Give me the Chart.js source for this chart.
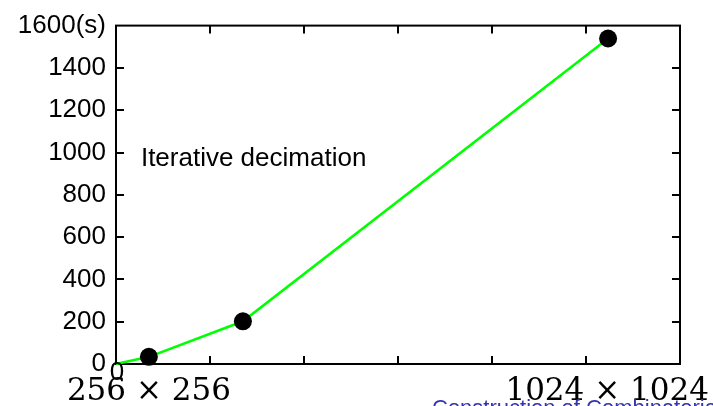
<!DOCTYPE html>
<html>
<head>
<meta charset="utf-8">
<script src="https://cdn.jsdelivr.net/npm/chart.js@4/dist/chart.umd.min.js"></script>
<style>
  html, body { margin: 0; padding: 0; background: #fff; }
  #wrap { width: 713px; height: 406px; }
</style>
</head>
<body>
<div id="wrap"><canvas id="chart" width="713" height="406"></canvas></div>
<script>
// --- Data ---
const imageSizes = [0, 70000, 270000, 1047000];   // pixels per image
const seconds = [0, 34, 202, 1539];               // run time (s)
const markerRadius = [0, 9, 9, 9];                // origin has no marker

const yTickValues = [0, 200, 400, 600, 800, 1000, 1200, 1400, 1600];
const xTickValues = [0, 200000, 400000, 600000, 800000, 1000000, 1200000];
const xTickLabels = ['0'];
const sizeLabels = ['256 \u00d7 256', '1024 \u00d7 1024'];
const sizeLabelValues = [70000, 1045000];
const seriesName = 'Iterative decimation';
const caption = 'Construction of Combinatorial';

const SANS = "'Liberation Sans', Arial, sans-serif";
const SERIF = "'DejaVu Serif', serif";

// --- Frame, inward ticks and extra labels ---
const framePlugin = {
    id: 'frame',
    beforeDatasetsDraw(chart) {
        const { ctx, chartArea: a, scales: { x, y } } = chart;
        const tick = 8;
        ctx.save();
        ctx.strokeStyle = '#000';
        ctx.lineWidth = 2;
        ctx.strokeRect(a.left, a.top, a.right - a.left, a.bottom - a.top);
        ctx.beginPath();
        xTickValues.slice(1, -1).forEach(v => {
            const px = Math.round(x.getPixelForValue(v));
            ctx.moveTo(px, a.bottom); ctx.lineTo(px, a.bottom - tick);
            ctx.moveTo(px, a.top); ctx.lineTo(px, a.top + tick);
        });
        yTickValues.slice(1, -1).forEach(v => {
            const py = Math.round(y.getPixelForValue(v));
            ctx.moveTo(a.left, py); ctx.lineTo(a.left + tick, py);
            ctx.moveTo(a.right, py); ctx.lineTo(a.right - tick, py);
        });
        ctx.stroke();
        ctx.restore();
    },
    afterDraw(chart) {
        const { ctx, chartArea: a, scales: { x, y } } = chart;
        ctx.save();
        ctx.fillStyle = '#000';

        // x tick label at the origin
        ctx.font = `26px ${SANS}`;
        ctx.textAlign = 'center';
        ctx.textBaseline = 'middle';
        xTickLabels.forEach((t, i) => ctx.fillText(t, x.getPixelForValue(xTickValues[i]) + 1, a.bottom + 9));

        // series name
        ctx.textAlign = 'left';
        ctx.fillText(seriesName, x.getPixelForValue(53000), y.getPixelForValue(970));

        // image size labels
        ctx.font = `31px ${SERIF}`;
        ctx.textAlign = 'center';
        ctx.textBaseline = 'alphabetic';
        sizeLabels.forEach((t, i) => ctx.fillText(t, x.getPixelForValue(sizeLabelValues[i]), 400));

        // cut-off caption at the bottom edge
        ctx.font = `22px ${SANS}`;
        ctx.fillStyle = '#3535b0';
        ctx.textAlign = 'left';
        ctx.fillText(caption, 432, 415);
        ctx.restore();
    }
};

new Chart(document.getElementById('chart'), {
    type: 'scatter',
    data: {
        datasets: [{
            label: seriesName,
            data: imageSizes.map((v, i) => ({ x: v, y: seconds[i] })),
            showLine: true,
            borderColor: '#00ff00',
            borderWidth: 2.5,
            tension: 0,
            pointRadius: markerRadius,
            pointBackgroundColor: '#000',
            pointBorderColor: '#000',
            pointBorderWidth: 0,
            clip: false
        }]
    },
    options: {
        responsive: false,
        animation: false,
        layout: { padding: { left: 0, right: 33, top: 23, bottom: 0 } },
        scales: {
            x: {
                type: 'linear',
                min: 0,
                max: 1200000,
                afterBuildTicks: s => { s.ticks = xTickValues.map(v => ({ value: v })); },
                afterFit: s => { s.height = 42; },
                grid: { display: false, drawTicks: false },
                border: { display: false },
                ticks: { display: false }
            },
            y: {
                min: 0,
                max: 1600,
                afterBuildTicks: s => { s.ticks = yTickValues.map(v => ({ value: v })); },
                afterFit: s => { s.width = 116; },
                grid: { display: false, drawTicks: false },
                border: { display: false },
                ticks: {
                    padding: 10,
                    color: '#000',
                    font: { family: SANS, size: 26 },
                    callback: v => v === 1600 ? '1600(s)' : String(v)
                }
            }
        },
        plugins: {
            legend: { display: false },
            tooltip: { enabled: false }
        }
    },
    plugins: [framePlugin]
});
</script>
</body>
</html>
